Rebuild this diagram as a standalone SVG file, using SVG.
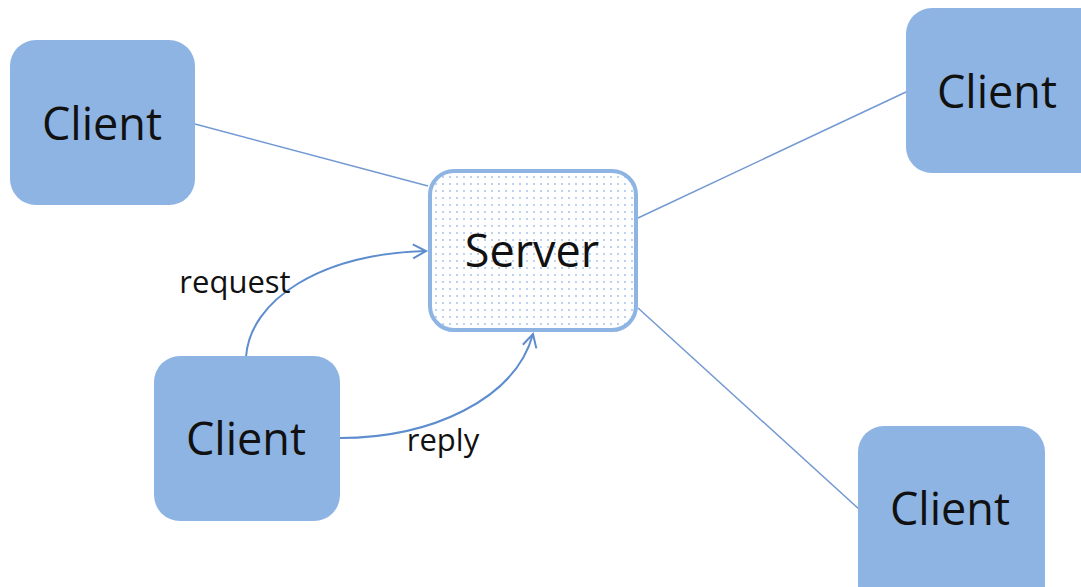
<svg xmlns="http://www.w3.org/2000/svg" width="1081" height="587" viewBox="0 0 1081 587">
<style>
.client{fill:#8EB4E3;}
.lbl{font-family:"Open Sans","Noto Sans",sans-serif;fill:#111;text-anchor:middle;}
.big{font-size:45px;}
.small{font-size:31px;}
.ln{stroke:#7399D3;stroke-width:1.5;fill:none;}
.cv{stroke:#5D8CCF;stroke-width:2;fill:none;}
</style>
<defs>
<pattern id="dots" width="7" height="7" patternUnits="userSpaceOnUse">
<rect width="7" height="7" fill="#fff"/>
<circle cx="2" cy="2" r="0.9" fill="#9DBDE6"/>
</pattern>
<marker id="arr" markerWidth="20" markerHeight="20" refX="15" refY="8" orient="auto" markerUnits="userSpaceOnUse">
<path d="M2,1 L15,8 L2,15" fill="none" stroke="#5D8CCF" stroke-width="2"/>
</marker>
</defs>
<g id="connectors">
<line class="ln" x1="195" y1="124" x2="428" y2="186"/>
<line class="ln" x1="906" y1="92" x2="638" y2="218"/>
<line class="ln" x1="638" y1="308" x2="860" y2="510"/>
<path class="cv" d="M246,357 C250,300 320,254 426,251" marker-end="url(#arr)"/>
<path class="cv" d="M340,438 C430,438 515,400 533,334" marker-end="url(#arr)"/>
</g>
<g id="client-tl">
<rect class="client" x="10" y="40" width="185" height="165" rx="26"/>
<text class="lbl big" x="102" y="140">Client</text>
</g>
<g id="client-tr">
<rect class="client" x="906" y="8" width="200" height="165" rx="26"/>
<text class="lbl big" x="997" y="108">Client</text>
</g>
<g id="client-bl">
<rect class="client" x="154" y="356" width="186" height="165" rx="26"/>
<text class="lbl big" x="246" y="455">Client</text>
</g>
<g id="client-br">
<rect class="client" x="858" y="426" width="187" height="185" rx="26"/>
<text class="lbl big" x="950" y="525">Client</text>
</g>
<g id="server">
<rect x="430" y="171" width="206" height="159" rx="24" fill="url(#dots)" stroke="#8EB4E3" stroke-width="4"/>
<text class="lbl big" x="532" y="267">Server</text>
</g>
<g id="labels">
<text class="lbl small" x="235" y="293">request</text>
<text class="lbl small" x="443" y="451">reply</text>
</g>
</svg>
